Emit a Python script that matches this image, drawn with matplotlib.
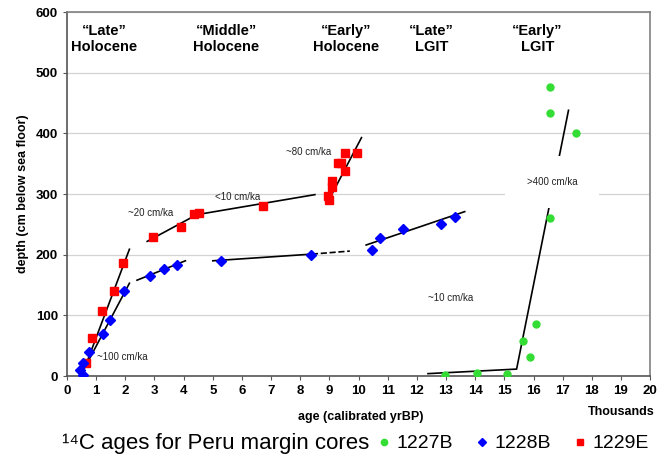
import matplotlib
matplotlib.use("Agg")
import matplotlib.pyplot as plt
from matplotlib.lines import Line2D

plt.rcParams['font.family'] = ['Liberation Sans', 'DejaVu Sans']

# --- data (age in thousand yrBP, depth in cm) ---
age_1227 = [12.95, 14.07, 15.08, 15.65, 15.88, 16.10, 16.57, 16.55, 16.55, 17.46]
depth_1227 = [2, 5, 4, 58, 31, 85, 260, 476, 433, 401]

age_1228 = [0.45, 0.54, 0.54, 0.77, 1.23, 1.46, 1.94, 2.86, 3.32, 3.78, 5.27, 8.37,
            10.46, 10.75, 11.54, 12.84, 13.30]
depth_1228 = [10, 21, 2, 40, 69, 93, 141, 165, 176, 183, 190, 200,
              207, 227, 242, 250, 262]

age_1229 = [0.65, 0.86, 1.20, 1.62, 1.93, 2.96, 3.92, 4.34, 4.51, 6.71,
            8.95, 8.98, 9.08, 9.08, 9.30, 9.40, 9.54, 9.54, 9.95]
depth_1229 = [21, 63, 107, 140, 186, 229, 245, 267, 269, 280,
              296, 291, 311, 321, 351, 351, 338, 367, 367]

# fitted sedimentation-rate trend lines: (ages, depths, style)
trend_lines = [
    ([0.62, 2.14], [15, 209], '-'),
    ([2.75, 4.45, 8.5], [222, 266, 299], '-'),
    ([9.0, 10.1], [292, 393], '-'),
    ([0.50, 2.14], [4, 153], '-'),
    ([2.40, 4.06], [158, 190], '-'),
    ([5.0, 8.4], [190, 201], '-'),
    ([8.4, 9.7], [201, 206], '--'),
    ([10.26, 13.64], [216, 271], '-'),
    ([12.38, 15.42, 17.2], [4, 11.5, 438], '-'),
]

rate_labels = ["~100 cm/ka", "~20 cm/ka", "<10 cm/ka", "~80 cm/ka", "~10 cm/ka"]
rate_x = [1.02, 2.86, 5.85, 8.3, 13.16]
rate_y = [32, 268, 295, 370, 128]
rate_ha = ['left', 'center', 'center', 'center', 'center']

period_labels = ["\u201cLate\u201d\nHolocene", "\u201cMiddle\u201d\nHolocene",
                 "\u201cEarly\u201d\nHolocene", "\u201cLate\u201d\nLGIT", "\u201cEarly\u201d\nLGIT"]
period_x = [1.27, 5.46, 9.57, 12.5, 16.13]

core_names = ["1227B", "1228B", "1229E"]
core_colors = ['#33dd33', '#0000ff', '#ff0000']
core_markers = ['o', 'D', 's']

fig = plt.figure(figsize=(6.71, 4.62), dpi=100)
ax = fig.add_axes([0.0999, 0.186, 0.869, 0.788])

ax.set_xlim(0, 20)
ax.set_ylim(0, 600)
ax.set_xticks(range(0, 21))
ax.set_yticks(range(0, 601, 100))
ax.yaxis.grid(True, color='#d4d4d4', linewidth=0.9)
ax.set_axisbelow(True)
for s in ['top', 'right']:
    ax.spines[s].set_color('#808080')
    ax.spines[s].set_linewidth(1.2)
for s in ['left', 'bottom']:
    ax.spines[s].set_color('#555555')
    ax.spines[s].set_linewidth(1.2)
ax.tick_params(length=3, width=0.8, color='#555555', labelsize=9.5)
for lab in ax.get_xticklabels() + ax.get_yticklabels():
    lab.set_fontweight('bold')

for xs, ys, ls in trend_lines:
    ax.plot(xs, ys, color='black', linewidth=1.2, linestyle=ls, zorder=2)

ax.plot(age_1229, depth_1229, 's', color=core_colors[2], markersize=5.5, zorder=3)
ax.plot(age_1228, depth_1228, 'D', color=core_colors[1], markersize=5.5, zorder=3)
ax.plot(age_1227, depth_1227, 'o', color=core_colors[0], markersize=5, zorder=3)

for t, x, y, ha in zip(rate_labels, rate_x, rate_y, rate_ha):
    ax.text(x, y, t, fontsize=7, ha=ha, va='center', color='#222222', zorder=4)

# >400 label sits in a white box that hides the line and gridline behind it
ax.text(16.63, 320, ">400 cm/ka", fontsize=7, ha='center', va='center', color='#222222',
        zorder=4, bbox=dict(facecolor='white', edgecolor='none', boxstyle='square,pad=2.2'))

for t, x in zip(period_labels, period_x):
    ax.text(x, 556, t, fontsize=10.5, fontweight='bold', ha='center', va='center',
            linespacing=1.2)

ax.set_ylabel("depth (cm below sea floor)", fontsize=9, fontweight='bold', labelpad=5)
fig.text(0.537, 0.098, "age (calibrated yrBP)", fontsize=9, fontweight='bold',
         ha='center', va='center')
fig.text(0.975, 0.109, "Thousands", fontsize=9, fontweight='bold', ha='right', va='center')

# bottom legend row
fig.text(0.092, 0.040, "\u00b9\u2074C ages for Peru margin cores", fontsize=16, va='center',
         ha='left')
handles = [Line2D([], [], marker=m, color=c, linestyle='none', markersize=4.5)
           for m, c in zip(core_markers, core_colors)]
fig.legend(handles, core_names, loc='center left',
           bbox_to_anchor=(0.560, 0.040), ncol=3, frameon=False, fontsize=14,
           handletextpad=0.25, columnspacing=1.1, handlelength=0.8, borderpad=0,
           borderaxespad=0)

fig.savefig("out.png", dpi=100)
